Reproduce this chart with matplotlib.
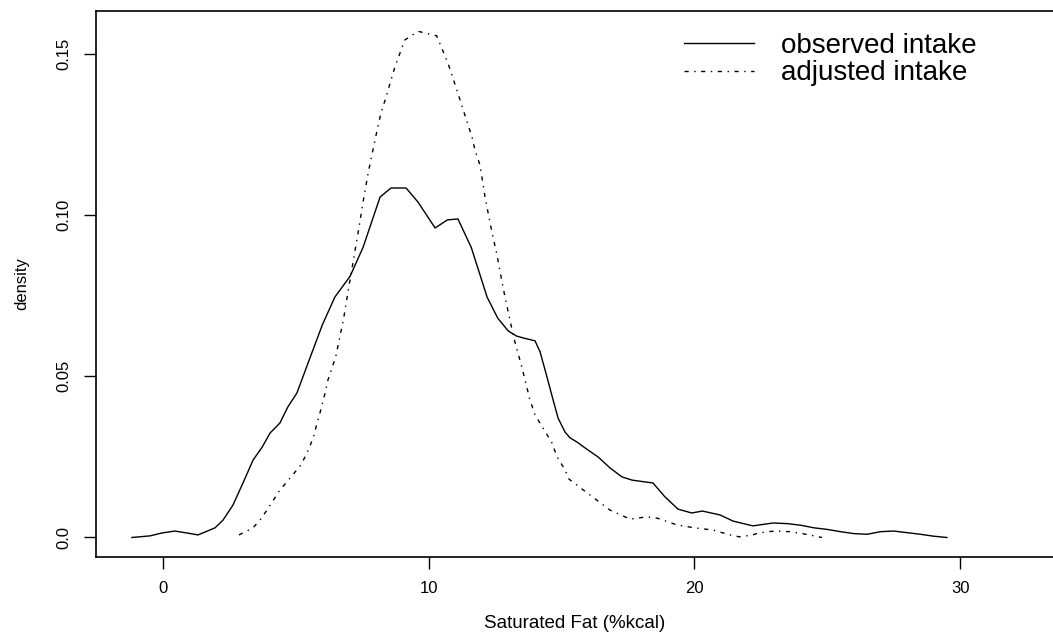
import matplotlib

matplotlib.use("Agg")
import matplotlib.pyplot as plt

plt.rcParams["font.family"] = ["Liberation Sans", "DejaVu Sans"]

# observed intake density (solid line)
obs_x = [-1.17, -0.49, -0.04, 0.45, 0.9, 1.32, 1.96, 2.26, 2.63, 3.01, 3.39, 3.73,
         4.03, 4.4, 4.7, 5.04, 5.5, 6.0, 6.47, 7.04, 7.53, 8.17, 8.58, 9.15, 9.6,
         10.24, 10.7, 11.1, 11.6, 12.2, 12.6, 13.0, 13.3, 13.6, 14.0, 14.19, 14.45,
         14.68, 14.87, 15.13, 15.32, 15.58, 16.0, 16.37, 16.82, 17.27, 17.65, 18.44,
         18.89, 19.38, 19.9, 20.3, 20.96, 21.45, 22.2, 22.96, 23.5, 24.0, 24.5, 25.0,
         25.5, 26.0, 26.5, 27.0, 27.5, 28.0, 28.5, 29.0, 29.5]
obs_y = [0.0, 0.0005, 0.0014, 0.002, 0.0014, 0.0008, 0.003, 0.0054, 0.010, 0.0169,
         0.024, 0.028, 0.0324, 0.0355, 0.0405, 0.0448, 0.055, 0.066, 0.0746, 0.081,
         0.090, 0.1056, 0.1084, 0.1084, 0.104, 0.096, 0.0985, 0.0988, 0.090, 0.0745,
         0.068, 0.064, 0.0625, 0.0618, 0.061, 0.0576, 0.0498, 0.0427, 0.037, 0.0327,
         0.0309, 0.0296, 0.0271, 0.025, 0.0216, 0.0188, 0.0178, 0.0169, 0.0126,
         0.0088, 0.0076, 0.0082, 0.007, 0.0051, 0.0036, 0.0045, 0.0043, 0.0038,
         0.003, 0.0025, 0.0018, 0.0012, 0.001, 0.0018, 0.002, 0.0015, 0.001, 0.0004,
         0.0]

# adjusted intake density (dash-dot line)
adj_x = [2.86, 3.39, 3.71, 4.03, 4.4, 4.82, 5.19, 5.42, 5.65, 5.8, 5.87, 6.1, 6.21,
         6.5, 6.8, 7.0, 7.34, 7.53, 7.72, 7.98, 8.2, 8.36, 8.73, 9.1, 9.6, 10.3,
         10.73, 10.9, 11.18, 11.44, 11.63, 11.74, 11.93, 12.12, 12.34, 12.57, 12.76,
         12.87, 13.2, 13.5, 13.8, 14.0, 14.3, 14.64, 14.83, 15.13, 15.28, 16.37,
         16.82, 17.58, 18.2, 18.6, 19.34, 20.0, 20.7, 21.34, 21.7, 22.2, 22.4, 23.0,
         23.6, 24.2, 24.8]
adj_y = [0.0008, 0.003, 0.006, 0.010, 0.0147, 0.0188, 0.0225, 0.0262, 0.0308,
         0.0355, 0.0374, 0.0448, 0.0489, 0.056, 0.068, 0.078, 0.0944, 0.104, 0.113,
         0.1233, 0.1316, 0.1357, 0.146, 0.1543, 0.157, 0.1556, 0.147, 0.1428,
         0.1357, 0.129, 0.1242, 0.1202, 0.1155, 0.1056, 0.0963, 0.0876, 0.0792,
         0.0746, 0.062, 0.053, 0.043, 0.038, 0.034, 0.0293, 0.025, 0.021, 0.0181,
         0.0113, 0.0085, 0.0057, 0.0064, 0.006, 0.0039, 0.003, 0.0023, 0.0008,
         0.0002, 0.0008, 0.0014, 0.002, 0.0018, 0.001, 0.0]

x_ticks = [0, 10, 20, 30]
y_ticks = [0.0, 0.05, 0.10, 0.15]
y_tick_labels = ["0.0", "0.05", "0.10", "0.15"]


def main():
    fig = plt.figure(figsize=(10.53, 6.4), dpi=100)
    W, H = 1053, 640
    ax = fig.add_axes([96 / W, 83 / H, 958 / W, 546 / H])

    ax.plot(obs_x, obs_y, color="black", linewidth=1.0, label="observed intake")
    ax.plot(adj_x, adj_y, color="black", linewidth=1.0,
            linestyle=(0, (3, 4, 1, 4)), label="adjusted intake")

    ax.set_xlim(-2.52, 33.53)
    ax.set_ylim(-0.00605, 0.1633)
    ax.set_xticks(x_ticks)
    ax.set_yticks(y_ticks)
    ax.set_yticklabels(y_tick_labels, rotation=90, va="center")
    ax.tick_params(axis="both", length=8.6, width=1.0, labelsize=12, pad=9)

    for sp in ax.spines.values():
        sp.set_linewidth(1.2)

    ax.set_xlabel("Saturated Fat (%kcal)", fontsize=13.5, labelpad=13)
    ax.set_ylabel("density", fontsize=12, labelpad=20)

    ax.legend(loc="upper left", bbox_to_anchor=(0.614, 0.96), frameon=False,
              fontsize=20, handlelength=2.5, handletextpad=1.0, labelspacing=0.05,
              borderpad=0, borderaxespad=0)

    fig.savefig("out.png", dpi=100)


if __name__ == "__main__":
    main()
